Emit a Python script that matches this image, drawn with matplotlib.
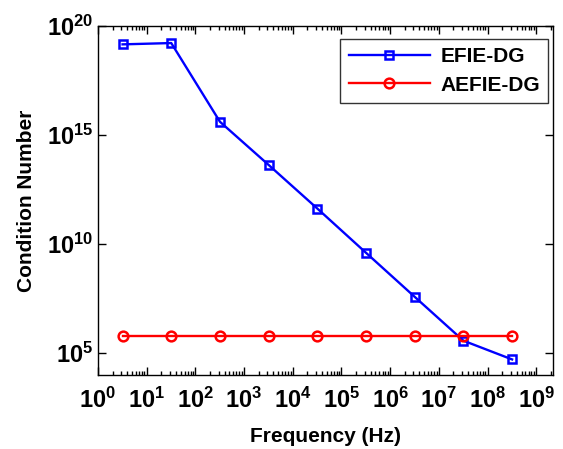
import matplotlib
matplotlib.use("Agg")
import matplotlib.pyplot as plt
from matplotlib.ticker import LogLocator, NullLocator, FixedLocator, LogFormatterSciNotation

plt.rcParams['font.family'] = ['Liberation Sans', 'DejaVu Sans']
plt.rcParams['font.weight'] = 'bold'
plt.rcParams['mathtext.fontset'] = 'custom'
plt.rcParams['mathtext.rm'] = 'Liberation Sans:bold'
plt.rcParams['mathtext.it'] = 'Liberation Sans:bold'
plt.rcParams['mathtext.bf'] = 'Liberation Sans:bold'

freq = [3.2e0, 3.2e1, 3.2e2, 3.2e3, 3.2e4, 3.2e5, 3.2e6, 3.2e7, 3.2e8]
efie_dg = [10**19.16, 10**19.22, 10**15.61, 10**13.63, 10**11.63, 10**9.6, 10**7.58, 10**5.57, 10**4.71]
aefie_dg = [10**5.8] * 9
xticks = [10.0**k for k in range(0, 10)]
yticks = [1e5, 1e10, 1e15, 1e20]

fig = plt.figure(figsize=(5.63, 4.49), dpi=100)
ax = fig.add_axes([0.174, 0.165, 0.808, 0.777])

ax.plot(freq, efie_dg, color='#0000ff', lw=1.7, marker='s', ms=6, mfc='none', mec='#0000ff', mew=1.8, label='EFIE-DG')
ax.plot(freq, aefie_dg, color='#ff0000', lw=1.7, marker='o', ms=7, mfc='none', mec='#ff0000', mew=1.8, label='AEFIE-DG')

ax.set_xscale('log')
ax.set_yscale('log')
ax.set_xlim(1e0, 2.2e9)
ax.set_ylim(1e4, 1e20)
ax.xaxis.set_major_locator(FixedLocator(xticks))
ax.xaxis.set_minor_locator(LogLocator(base=10, subs=range(2, 10), numticks=20))
ax.yaxis.set_major_locator(FixedLocator(yticks))
ax.yaxis.set_minor_locator(NullLocator())
ax.xaxis.set_major_formatter(LogFormatterSciNotation())
ax.yaxis.set_major_formatter(LogFormatterSciNotation())

ax.tick_params(which='both', direction='in', top=True, right=True, labelsize=17, width=1)
ax.tick_params(axis='x', which='major', pad=9)
ax.tick_params(which='major', length=6)
ax.tick_params(which='minor', length=3)
for s in ax.spines.values():
    s.set_linewidth(1)

ax.set_xlabel('Frequency (Hz)', fontsize=15, fontweight='bold', labelpad=10)
ax.set_ylabel('Condition Number', fontsize=15, fontweight='bold', labelpad=8)

leg = ax.legend(loc='upper right', fontsize=15, frameon=True, fancybox=False,
                edgecolor='black', handlelength=3.9, borderpad=0.4, labelspacing=0.45,
                handletextpad=0.5, bbox_to_anchor=(0.99, 0.963), borderaxespad=0)
leg.get_frame().set_linewidth(1)

fig.savefig('out.png', dpi=100)
